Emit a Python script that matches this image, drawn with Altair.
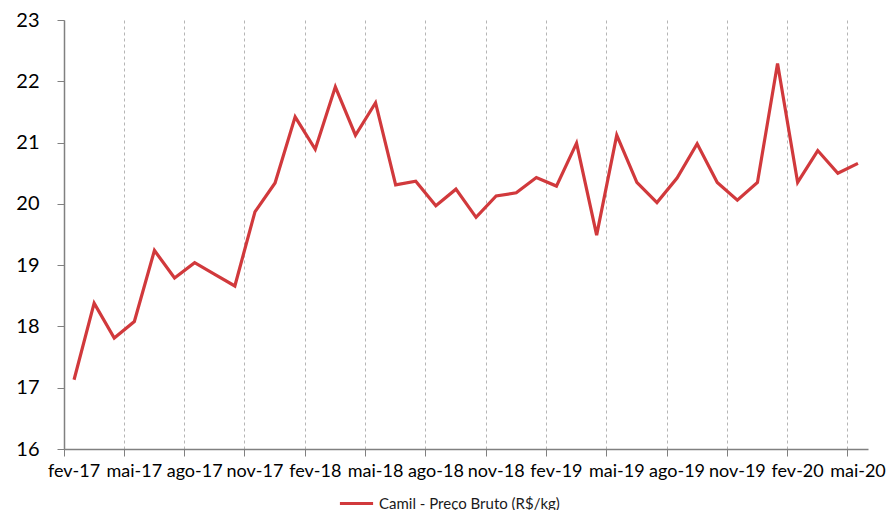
import altair as alt
import pandas as pd

months = [
    "fev-17", "mar-17", "abr-17", "mai-17", "jun-17", "jul-17", "ago-17", "set-17",
    "out-17", "nov-17", "dez-17", "jan-18", "fev-18", "mar-18", "abr-18", "mai-18",
    "jun-18", "jul-18", "ago-18", "set-18", "out-18", "nov-18", "dez-18", "jan-19",
    "fev-19", "mar-19", "abr-19", "mai-19", "jun-19", "jul-19", "ago-19", "set-19",
    "out-19", "nov-19", "dez-19", "jan-20", "fev-20", "mar-20", "abr-20", "mai-20",
]
prices = [
    17.13, 18.38, 17.81, 18.08, 19.24, 18.79, 19.04, 18.85,
    18.66, 19.87, 20.34, 21.42, 20.89, 21.91, 21.12, 21.65,
    20.31, 20.37, 19.97, 20.24, 19.78, 20.13, 20.18, 20.43,
    20.29, 20.99, 19.49, 21.12, 20.35, 20.02, 20.42, 20.98,
    20.35, 20.06, 20.35, 22.29, 20.35, 20.87, 20.50, 20.66,
]
tick_labels = [
    "fev-17", "mai-17", "ago-17", "nov-17", "fev-18", "mai-18", "ago-18",
    "nov-18", "fev-19", "mai-19", "ago-19", "nov-19", "fev-20", "mai-20",
]
y_ticks = [16, 17, 18, 19, 20, 21, 22, 23]
series_name = "Camil - Preço Bruto (R$/kg)"

df = pd.DataFrame({"mes": months, "preco": prices, "serie": series_name})

FONT = "Lato"

chart = (
    alt.Chart(df)
    .mark_line(strokeWidth=3.2)
    .encode(
        x=alt.X(
            "mes:N",
            sort=months,
            bandPosition=0.5,
            scale=alt.Scale(type="band", paddingInner=0, paddingOuter=0),
            axis=alt.Axis(
                title=None,
                values=tick_labels,
                bandPosition=0,
                labelOffset=0,
                labelAngle=0,
                labelFont=FONT,
                labelFontSize=18,
                labelColor="#000000",
                labelPadding=6,
                tickSize=7,
                tickColor="#808080",
                domainColor="#808080",
                domainWidth=1.5,
                grid=True,
                gridColor="#b5b5b5",
                gridDash=[3, 3],
                gridWidth=1,
            ),
        ),
        y=alt.Y(
            "preco:Q",
            scale=alt.Scale(domain=[16, 23], nice=False, zero=False),
            axis=alt.Axis(
                title=None,
                values=y_ticks,
                grid=False,
                labelFont=FONT,
                labelFontSize=20,
                labelColor="#000000",
                labelPadding=18,
                tickSize=7,
                tickColor="#808080",
                domainColor="#808080",
                domainWidth=1.5,
            ),
        ),
        color=alt.Color(
            "serie:N",
            scale=alt.Scale(range=["#d1393c"]),
            legend=alt.Legend(
                title=None,
                orient="none",
                legendX=274,
                legendY=465,
                symbolType="stroke",
                symbolStrokeWidth=3,
                symbolSize=1100,
                labelFont=FONT,
                labelFontSize=15,
                labelColor="#1a1a1a",
                labelOffset=4,
                labelLimit=400,
            ),
        ),
    )
    .properties(
        width=804,
        height=429,
        autosize=alt.AutoSizeParams(type="none"),
        padding={"left": 56, "top": 12, "right": 20, "bottom": 61},
    )
    .configure_view(stroke=None)
)

chart.save("out.html", embed_options={"renderer": "svg", "actions": False})
